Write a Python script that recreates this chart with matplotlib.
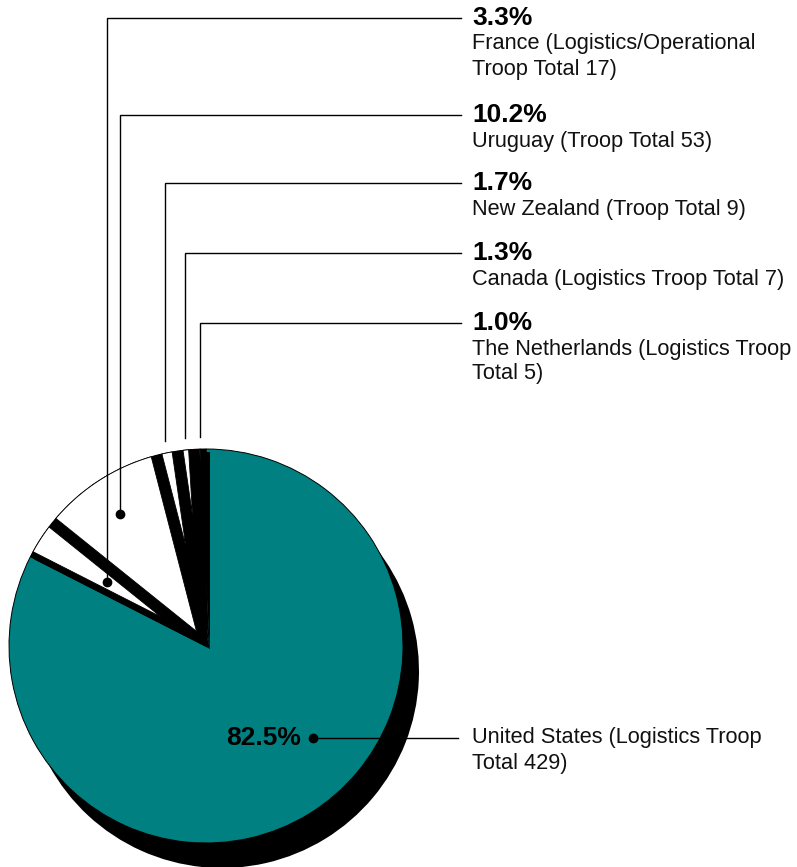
"""UN force contributors - share of troops by country (pie with drop shadow)."""
import numpy as np
import matplotlib
matplotlib.use("Agg")
import matplotlib.pyplot as plt
from matplotlib.patches import Polygon, Wedge

plt.rcParams["font.family"] = ["Liberation Sans", "DejaVu Sans"]

countries = ["United States", "France", "Uruguay", "New Zealand", "Canada",
             "The Netherlands"]
troops = [429, 17, 53, 9, 7, 5]
shares = ["82.5%", "3.3%", "10.2%", "1.7%", "1.3%", "1.0%"]
details = [
    ["United States (Logistics Troop", "Total 429)"],
    ["France (Logistics/Operational", "Troop Total 17)"],
    ["Uruguay (Troop Total 53)"],
    ["New Zealand (Troop Total 9)"],
    ["Canada (Logistics Troop Total 7)"],
    ["The Netherlands (Logistics Troop", "Total 5)"],
]

W, H = 797, 867
CX, CY, R = 206, H - 646, 197
SHADOW = (16, -25)
TEAL = "#008080"
INSET = 5.5
TEXT_X = 472
LINE_END = 461
LABEL_Y = [H - 18, H - 115, H - 183, H - 253, H - 323]   # small slices
ANCHOR_R = [0.60, 0.80, 1.06, 1.06, 1.06]
US_Y = H - 738


def face_polygon(a1, a2, h):
    """white top face of a small slice, inset by h from both straight edges"""
    beta = np.radians((a2 - a1) / 2)
    m = np.radians((a1 + a2) / 2)
    d = h / np.sin(beta)
    if d > R * 0.97:
        return None
    c = np.array([CX, CY], float)
    apex = c + d * np.array([np.cos(m), np.sin(m)])
    q = apex - c
    ends = []
    for a in (a1, a2):
        u = np.array([np.cos(np.radians(a)), np.sin(np.radians(a))])
        qu = q @ u
        t = -qu + np.sqrt(qu ** 2 - q @ q + R ** 2)
        ends.append(apex + t * u)
    g1 = np.arctan2(*(ends[0] - c)[::-1])
    g2 = np.arctan2(*(ends[1] - c)[::-1])
    g2 = g1 + (g2 - g1) % (2 * np.pi)
    th = np.linspace(g1, g2, 40)
    arc = np.column_stack([CX + R * np.cos(th), CY + R * np.sin(th)])
    return np.vstack([apex, arc])


fig = plt.figure(figsize=(W / 100, H / 100), dpi=100)
ax = fig.add_axes([0, 0, 1, 1])

# drop shadow
ax.pie(troops, colors=["black"] * len(troops), startangle=90,
       counterclock=False, center=(CX + SHADOW[0], CY + SHADOW[1]), radius=R,
       wedgeprops=dict(linewidth=0))
wedges, _ = ax.pie(troops, colors=[TEAL] + ["black"] * 5, startangle=90,
                   counterclock=False, center=(CX, CY), radius=R,
                   wedgeprops=dict(edgecolor="black", linewidth=0.7))

# small slices: black sides, white inset faces
for w in wedges[1:]:
    ax.add_patch(Wedge((CX + 4, CY - 3), R, w.theta1, w.theta2,
                       facecolor="black", linewidth=0, zorder=2))
for w in wedges[1:]:
    ax.add_patch(Wedge((CX, CY), R, w.theta1, w.theta2,
                       facecolor="black", linewidth=0, zorder=2))
    pts = face_polygon(w.theta1, w.theta2, INSET)
    if pts is not None:
        ax.add_patch(Polygon(pts, closed=True, facecolor="white",
                             edgecolor="black", linewidth=0.6, zorder=3))

# leader lines + labels for the small slices
for i, w in enumerate(wedges[1:]):
    m = np.radians((w.theta1 + w.theta2) / 2)
    x0 = CX + ANCHOR_R[i] * R * np.cos(m)
    y0 = CY + ANCHOR_R[i] * R * np.sin(m)
    ly = LABEL_Y[i]
    ax.plot([x0, x0, LINE_END], [y0, ly, ly], color="black", lw=1.0,
            zorder=4, solid_joinstyle="miter")
    if ANCHOR_R[i] < 1:
        ax.plot(x0, y0, "o", color="black", ms=6, zorder=5)
    ax.text(TEXT_X, ly, shares[i + 1], fontsize=19, fontweight="bold",
            ha="left", va="center")
    for j, line in enumerate(details[i + 1]):
        ax.text(TEXT_X, ly - 26 - 25 * j, line, fontsize=15.7, ha="left",
                va="center", color="#111111")

# United States
ang = np.radians(-40.4)
ux, uy = CX + 0.714 * R * np.cos(ang), US_Y
ax.plot([ux, 458], [uy, uy], color="black", lw=1.0, zorder=4)
ax.plot(ux, uy, "o", color="black", ms=6, zorder=5)
ax.text(ux - 12, uy, shares[0], fontsize=19, fontweight="bold",
        ha="right", va="center", zorder=5)
for j, line in enumerate(details[0]):
    ax.text(TEXT_X, uy - 25 * j, line, fontsize=15.7, ha="left", va="center",
            color="#111111")

ax.set_xlim(0, W)
ax.set_ylim(0, H)
ax.set_aspect("auto")
ax.axis("off")
fig.savefig("out.png", dpi=100)
